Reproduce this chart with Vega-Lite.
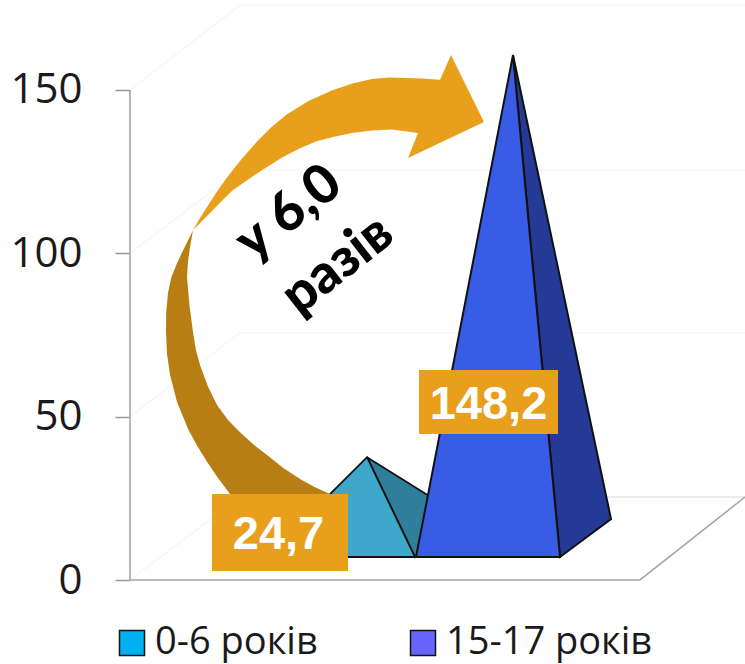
{
"$schema":"https://vega.github.io/schema/vega-lite/v6.json",
"width":615,"height":580,
"autosize":{"type":"none"},
"padding":{"left":130,"top":0,"right":0,"bottom":84},
"background":"white",
"config":{"view":{"stroke":null}},
"encoding":{
 "x":{"field":"x","type":"quantitative","scale":{"domain":[0,615],"nice":false,"zero":false},"axis":null},
 "y":{"field":"y","type":"quantitative","scale":{"domain":[0,177.55],"nice":false},
  "axis":{"values":[0,50,100,150],"domain":false,"grid":false,"tickColor":"#999999","tickWidth":1.5,"tickSize":15,"labelFont":"Open Sans","labelFontSize":42,"labelColor":"#1a1a1a","labelPadding":33,"title":null}}
},
"datasets":{
 "series":[{"series":"0-6 років","value":24.7,"x":237},{"series":"15-17 років","value":148.2,"x":383}],
 "wall":[
  {"g":"w150","i":0,"x":0,"y":150},{"g":"w150","i":1,"x":110,"y":176},{"g":"w150","i":2,"x":615,"y":176},
  {"g":"w100","i":0,"x":0,"y":100},{"g":"w100","i":1,"x":110,"y":125.5},{"g":"w100","i":2,"x":615,"y":125.5},
  {"g":"w50","i":0,"x":0,"y":50},{"g":"w50","i":1,"x":110,"y":75.7},{"g":"w50","i":2,"x":615,"y":75.7},
  {"g":"w0","i":0,"x":0,"y":0},{"g":"w0","i":1,"x":110,"y":25.4}
 ],
 "back":[{"g":"b","i":0,"x":110,"y":25.4},{"g":"b","i":1,"x":615,"y":25.4}],
 "floor":[
  {"g":"axis","i":0,"x":0,"y":150},{"g":"axis","i":1,"x":0,"y":0},{"g":"axis","i":2,"x":510,"y":0},{"g":"axis","i":3,"x":615,"y":25.4}
 ],
 "smallSide":[{"i":0,"x":237,"y":37.6},{"i":1,"x":285,"y":7.04},{"i":2,"x":336,"y":18.67},{"i":3,"x":237,"y":37.6}],
 "smallFront":[{"i":0,"x":137,"y":7.04},{"i":1,"x":237,"y":37.6},{"i":2,"x":285,"y":7.04},{"i":3,"x":137,"y":7.04}],
 "bigSide":[{"i":0,"x":383,"y":160.7},{"i":1,"x":430,"y":7.04},{"i":2,"x":481,"y":18.67},{"i":3,"x":383,"y":160.7}],
 "bigFront":[{"i":0,"x":286,"y":7.04},{"i":1,"x":383,"y":160.7},{"i":2,"x":430,"y":7.04},{"i":3,"x":286,"y":7.04}],
 "arrowDark":[
  {"i":0,"x":63,"y":107.1},{"i":1,"x":54,"y":101.5},{"i":2,"x":47,"y":97.0},{"i":3,"x":41.5,"y":92.8},{"i":4,"x":38,"y":87.9},{"i":5,"x":36.2,"y":82},{"i":6,"x":36,"y":75.9},{"i":7,"x":37,"y":69.2},{"i":8,"x":40,"y":62.8},{"i":9,"x":47,"y":54.5},{"i":10,"x":58.5,"y":45.9},{"i":11,"x":67,"y":41.2},{"i":12,"x":77,"y":36.2},{"i":13,"x":88,"y":31.2},{"i":14,"x":100,"y":26.3},{"i":15,"x":200,"y":26.3},{"i":16,"x":185,"y":28.4},{"i":17,"x":170,"y":30.9},{"i":18,"x":153,"y":34.4},{"i":19,"x":137,"y":38.3},{"i":20,"x":123,"y":41.6},{"i":21,"x":110,"y":45.2},{"i":22,"x":98,"y":49},{"i":23,"x":87,"y":53.6},{"i":24,"x":78,"y":59.2},{"i":25,"x":70,"y":65.8},{"i":26,"x":66,"y":70.3},{"i":27,"x":63,"y":75.9},{"i":28,"x":59.5,"y":84},{"i":29,"x":57,"y":92.7},{"i":30,"x":58,"y":97.5},{"i":31,"x":60,"y":101.9},{"i":32,"x":63,"y":107.1}
 ],
 "arrowLight":[
  {"i":0,"x":63,"y":107.1},{"i":1,"x":70,"y":110.8},{"i":2,"x":77,"y":114.2},{"i":3,"x":86,"y":118.5},{"i":4,"x":97,"y":123.2},{"i":5,"x":111.4,"y":128.8},{"i":6,"x":127,"y":134.2},{"i":7,"x":141,"y":138.5},{"i":8,"x":157,"y":142.6},{"i":9,"x":179.4,"y":146.75},{"i":10,"x":203,"y":150.0},{"i":11,"x":223.3,"y":152.1},{"i":12,"x":242,"y":153.4},{"i":13,"x":258.8,"y":153.8},{"i":14,"x":275,"y":153.7},{"i":15,"x":292,"y":153.5},{"i":16,"x":310,"y":153.1},{"i":17,"x":321,"y":160.7},{"i":18,"x":354,"y":140.2},{"i":19,"x":278,"y":129.2},{"i":20,"x":288,"y":136.8},{"i":21,"x":262,"y":137.9},{"i":22,"x":242,"y":137.6},{"i":23,"x":222,"y":136.8},{"i":24,"x":203,"y":135.6},{"i":25,"x":186,"y":134.2},{"i":26,"x":170,"y":132.2},{"i":27,"x":153,"y":129.5},{"i":28,"x":137,"y":126.4},{"i":29,"x":120,"y":123},{"i":30,"x":103,"y":119.4},{"i":31,"x":93,"y":116.4},{"i":32,"x":83,"y":113.3},{"i":33,"x":73,"y":110.2},{"i":34,"x":63,"y":107.1}
 ]
},
"layer":[
 {"data":{"name":"wall"},"mark":{"type":"line","stroke":"#f7f7f7","strokeWidth":1.5},"encoding":{"order":{"field":"i"},"detail":{"field":"g"}}},
 {"data":{"name":"back"},"mark":{"type":"line","stroke":"#ececec","strokeWidth":2},"encoding":{"order":{"field":"i"},"detail":{"field":"g"}}},
 {"data":{"name":"floor"},"mark":{"type":"line","stroke":"#a6a6a6","strokeWidth":1.6},"encoding":{"order":{"field":"i"},"detail":{"field":"g"}}},
 {"data":{"name":"smallSide"},"mark":{"type":"line","fill":"#2E7F9C","stroke":"#111111","strokeWidth":1.8},"encoding":{"order":{"field":"i"}}},
 {"data":{"name":"smallFront"},"mark":{"type":"line","fill":"#3DA8C9","stroke":"#111111","strokeWidth":1.8},"encoding":{"order":{"field":"i"}}},
 {"data":{"name":"bigSide"},"mark":{"type":"line","fill":"#243A96","stroke":"#111111","strokeWidth":2},"encoding":{"order":{"field":"i"}}},
 {"data":{"name":"bigFront"},"mark":{"type":"line","fill":"#385CE6","stroke":"#111111","strokeWidth":2},"encoding":{"order":{"field":"i"}}},
 {"data":{"name":"arrowDark"},"mark":{"type":"line","fill":"#B87E14","strokeWidth":0},"encoding":{"order":{"field":"i"}}},
 {"data":{"name":"arrowLight"},"mark":{"type":"line","fill":"#E8A01C","strokeWidth":0},"encoding":{"order":{"field":"i"}}},
 {"data":{"values":[{"label":"24,7","x":82,"x2":218,"y":26.3,"y2":2.75},{"label":"148,2","x":289,"x2":428,"y":64.3,"y2":44.7}]},
  "mark":{"type":"rect","fill":"#E8A01C"},
  "encoding":{"x2":{"field":"x2"},"y2":{"field":"y2"}}},
 {"data":{"values":[{"label":"24,7","x":148.5,"y":13.8},{"label":"148,2","x":358.5,"y":53.6}]},
  "mark":{"type":"text","font":"Liberation Sans","fontWeight":"bold","fontSize":47,"fill":"white","align":"center","baseline":"middle"},
  "encoding":{"text":{"field":"label"}}},
 {"data":{"values":[{"label":"у 6,0","x":159,"y":112.3},{"label":"разів","x":208,"y":96.4}]},
  "mark":{"type":"text","font":"Lato","fontWeight":900,"fontSize":54,"fill":"black","align":"center","baseline":"middle","angle":322},
  "encoding":{"text":{"field":"label"}}},
 {"data":{"name":"series"},
  "mark":{"type":"square","size":0},
  "encoding":{
   "y":{"field":"value","type":"quantitative"},
   "fill":{"field":"series","type":"nominal","scale":{"domain":["0-6 років","15-17 років"],"range":["#00B0F0","#6666FF"]},
    "legend":{"title":null,"orient":"none","legendX":-17,"legendY":624,"direction":"horizontal","columns":2,"symbolType":"square","symbolSize":625,"symbolStrokeColor":"#111111","symbolStrokeWidth":1.5,"symbolOpacity":1,"labelFont":"Open Sans","labelFontSize":38,"labelColor":"#1a1a1a","labelOffset":4,"labelLimit":300,"columnPadding":86,"padding":0}}
  }}
]
}
